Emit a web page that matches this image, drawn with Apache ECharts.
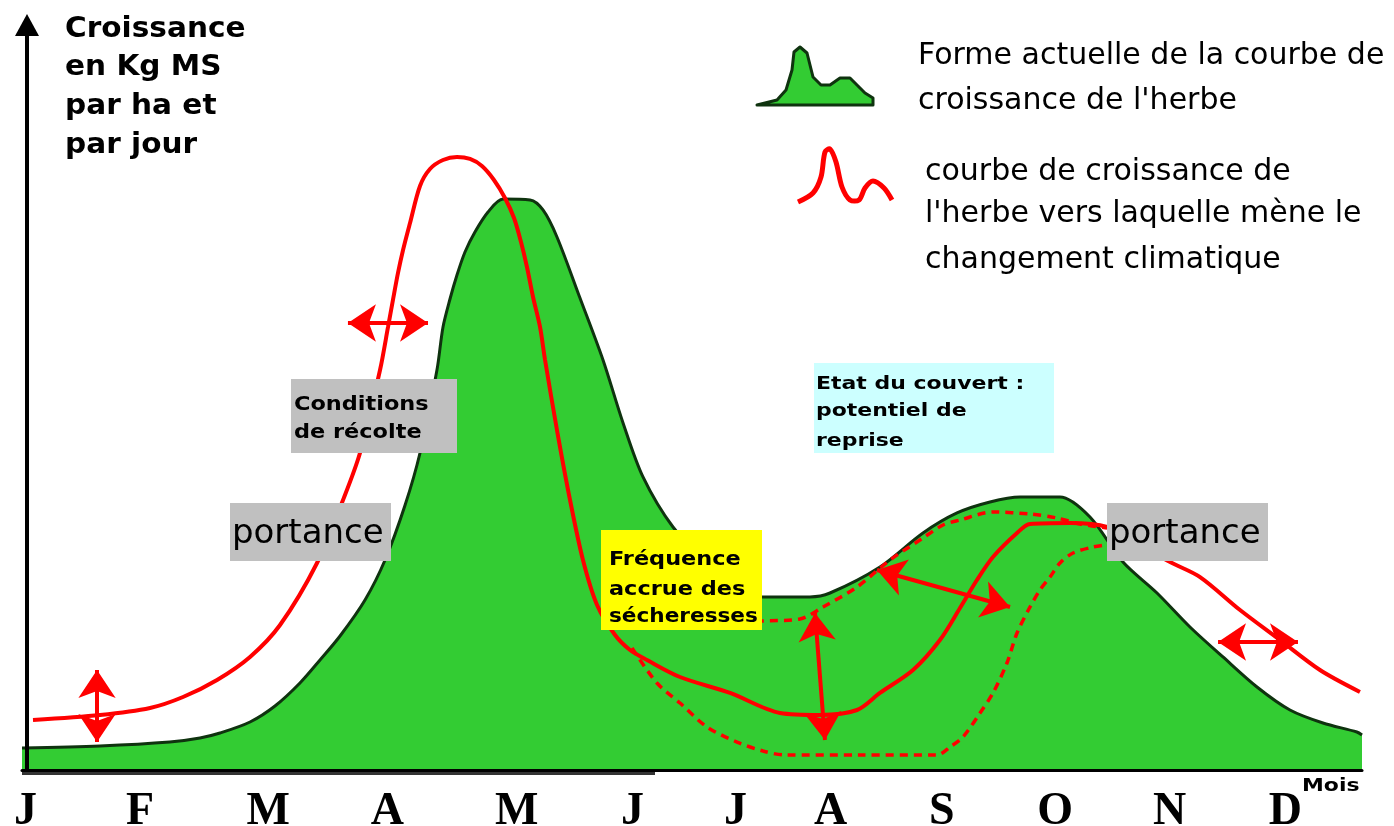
<!DOCTYPE html>
<html>
<head>
<meta charset="utf-8">
<title>Croissance de l'herbe</title>
<script src="https://cdn.jsdelivr.net/npm/echarts@6/dist/echarts.min.js"></script>
<style>
  html, body { margin: 0; padding: 0; background: #ffffff; }
  #chart { width: 1394px; height: 826px; }
</style>
</head>
<body>
<div id="chart"></div>
<script>
// Months along the horizontal axis (x unit = one month from January)
const monthLabels = ['J', 'F', 'M', 'A', 'M', 'J', 'J', 'A', 'S', 'O', 'N', 'D'];
const monthPos = [0.03, 1.03, 2.15, 3.19, 4.32, 5.33, 6.23, 7.06, 8.03, 9.02, 10.02, 11.03];

// Current grass growth curve [month, kg MS/ha/day (relative)]
const currentGrowth = [
  [0, 2.93], [0.68, 3.2], [1.29, 3.73], [1.554, 4.27], [1.729, 4.93], [1.991, 6.4],
  [2.209, 8.53], [2.427, 11.6], [2.602, 14.67], [2.777, 17.87], [2.995, 22.67], [3.17, 28.0],
  [3.345, 35.33], [3.475, 42.27], [3.623, 53.33], [3.676, 59.07], [3.737, 62.8], [3.798, 66.0],
  [3.868, 69.07], [3.955, 71.73], [4.069, 74.4], [4.2, 76.13], [4.436, 76.0], [4.549, 74.67],
  [4.671, 71.07], [4.872, 62.93], [5.073, 54.67], [5.248, 46.27], [5.422, 39.07], [5.684, 32.4],
  [6.007, 27.33], [6.269, 24.27], [6.461, 23.07], [6.88, 23.07], [7.055, 23.6], [7.491, 27.07],
  [7.867, 31.6], [8.164, 34.27], [8.452, 35.73], [8.714, 36.4], [9.063, 36.4], [9.325, 33.73],
  [9.613, 27.73], [9.91, 23.6], [10.198, 19.07], [10.486, 15.07], [10.783, 11.07], [11.071, 8.0],
  [11.359, 6.27], [11.655, 5.07], [11.7, 4.67]
];

// Growth curve under climate change
const futureGrowth = [
  [0.096, 6.67], [0.681, 7.33], [1.118, 8.27], [1.406, 9.73], [1.703, 12.0], [1.991, 15.07],
  [2.253, 19.33], [2.576, 27.6], [2.803, 36.0], [2.951, 42.27], [3.126, 53.33], [3.196, 59.07],
  [3.239, 62.67], [3.283, 66.27], [3.327, 69.33], [3.388, 72.93], [3.475, 77.87], [3.562, 80.13],
  [3.676, 81.33], [3.798, 81.73], [3.912, 81.47], [4.016, 80.53], [4.121, 78.67], [4.217, 76.27],
  [4.296, 73.6], [4.357, 70.4], [4.409, 67.07], [4.462, 63.07], [4.523, 59.07], [4.567, 54.67],
  [4.671, 45.33], [4.785, 36.0], [4.898, 28.0], [5.021, 22.0], [5.178, 18.0], [5.309, 16.0],
  [5.457, 14.67], [5.745, 12.4], [6.182, 10.27], [6.618, 7.6], [6.968, 7.33], [7.291, 8.0],
  [7.491, 10.27], [7.78, 13.33], [8.015, 17.33], [8.19, 21.6], [8.338, 25.33], [8.478, 28.4],
  [8.688, 31.6], [8.801, 32.8], [9.15, 32.93], [9.474, 32.4], [9.762, 30.0], [10.024, 27.73],
  [10.286, 25.73], [10.635, 21.33], [10.984, 17.33], [11.333, 13.33], [11.682, 10.4]
];

// Summer/autumn variants (dotted)
const droughtUpper = [
  [5.92, 19.47], [6.461, 19.87], [6.793, 20.13], [6.994, 21.73], [7.291, 24.4], [7.579, 28.0],
  [7.867, 30.93], [8.042, 32.67], [8.19, 33.33], [8.478, 34.4], [8.801, 34.13], [9.037, 33.6],
  [9.238, 32.8], [9.474, 32.27]
];
const droughtLower = [
  [5.326, 16.27], [5.544, 11.6], [5.745, 8.93], [5.981, 5.73], [6.243, 3.73], [6.47, 2.53],
  [6.662, 2.0], [7.317, 2.0], [7.989, 2.0], [8.103, 3.07], [8.216, 4.4], [8.365, 7.6],
  [8.478, 10.27], [8.6, 14.27], [8.688, 18.27], [8.801, 21.73], [8.888, 24.0], [8.976, 25.73],
  [9.063, 27.6], [9.177, 28.93], [9.351, 29.73], [9.474, 30.0]
];

// Double-headed arrows showing shifts (tip to tip)
const shiftArrows = [
  [[0.655, 13.33], [0.655, 3.73]],
  [[2.846, 59.6], [3.545, 59.6]],
  [[6.924, 20.93], [7.011, 4.0]],
  [[7.465, 26.67], [8.627, 21.73]],
  [[10.443, 17.07], [11.141, 17.07]]
];

const yTitle = ['Croissance', 'en Kg MS', 'par ha et', 'par jour'];
const legendCurrent = ['Forme actuelle de la courbe de', "croissance de l'herbe"];
const legendFuture = ['courbe de croissance de', "l'herbe vers laquelle mène le", 'changement climatique'];

const GREEN = '#33cc33';
const GREEN_EDGE = '#0f330f';
const RED = '#ff0000';

function txt(x, y, s, font, sx) {
  return {
    type: 'text', x: x, y: y, scaleX: sx || 1, z: 100,
    style: { text: s, font: font, fill: '#000', align: 'left', verticalAlign: 'middle' }
  };
}
function box(x, y, w, h, fill) {
  return { type: 'rect', z: 99, shape: { x: x, y: y, width: w, height: h }, style: { fill: fill } };
}

const graphics = [];
// Axis title
yTitle.forEach(function (s, i) {
  graphics.push(txt(65, [29, 67, 106, 145][i], s, 'bold 29px "DejaVu Sans"', 1.02));
});
// Legend
graphics.push({
  type: 'polygon', z: 100,
  shape: { points: [[757, 105], [777, 100], [786, 90], [792, 70], [794, 52], [800, 47], [807, 53], [813, 77], [821, 85], [830, 85], [840, 78], [850, 78], [859, 87], [865, 93], [873, 98], [873, 105]] },
  style: { fill: GREEN, stroke: GREEN_EDGE, lineWidth: 3, lineJoin: 'round' }
});
graphics.push({
  type: 'polyline', z: 100,
  shape: { points: [[798, 202], [813, 193], [821, 177], [825, 152], [830, 149], [836, 162], [842, 187], [850, 200], [859, 200], [865, 188], [873, 181], [884, 188], [892, 200]], smooth: 0.3 },
  style: { stroke: RED, lineWidth: 5, fill: null }
});
legendCurrent.forEach(function (s, i) {
  graphics.push(txt(918, [56, 101][i], s, '30px "DejaVu Sans"', 1));
});
legendFuture.forEach(function (s, i) {
  graphics.push(txt(925, [172, 214, 260][i], s, '30px "DejaVu Sans"', 1));
});
// Annotation boxes
graphics.push(box(291, 379, 166, 74, '#c0c0c0'));
graphics.push(txt(294, 405, 'Conditions', 'bold 19px "DejaVu Sans"', 1.18));
graphics.push(txt(294, 433, 'de récolte', 'bold 19px "DejaVu Sans"', 1.18));
graphics.push(box(230, 503, 161, 58, '#c0c0c0'));
graphics.push(txt(232, 534, 'portance', '33px "DejaVu Sans"', 1.03));
graphics.push(box(1107, 503, 161, 58, '#c0c0c0'));
graphics.push(txt(1109, 534, 'portance', '33px "DejaVu Sans"', 1.03));
graphics.push(box(601, 530, 161, 100, '#ffff00'));
graphics.push(txt(609, 560, 'Fréquence', 'bold 20px "DejaVu Sans"', 1.12));
graphics.push(txt(609, 590, 'accrue des', 'bold 20px "DejaVu Sans"', 1.12));
graphics.push(txt(609, 617, 'sécheresses', 'bold 20px "DejaVu Sans"', 1.08));
graphics.push(box(814, 363, 240, 90, '#ccffff'));
graphics.push(txt(816, 384, 'Etat du couvert :', 'bold 18px "DejaVu Sans"', 1.22));
graphics.push(txt(816, 411, 'potentiel de', 'bold 18px "DejaVu Sans"', 1.22));
graphics.push(txt(816, 441, 'reprise', 'bold 18px "DejaVu Sans"', 1.22));
// Axis unit
graphics.push(txt(1302, 786, 'Mois', 'bold 18px "DejaVu Sans"', 1.22));
// shadow strip under the baseline
graphics.push({ type: 'rect', z: 1, shape: { x: 22, y: 771, width: 633, height: 4 }, style: { fill: '#333333' } });

const chart = echarts.init(document.getElementById('chart'), null, { renderer: 'canvas' });
chart.setOption({
  animation: false,
  backgroundColor: '#ffffff',
  grid: { left: 22, right: 32, top: 20, bottom: 56, containLabel: false, outerBoundsMode: 'none' },
  xAxis: {
    type: 'value', min: 0, max: 11.7, z: 10,
    axisLine: { show: true, onZero: false, lineStyle: { color: '#000', width: 3 } },
    axisTick: { show: false },
    splitLine: { show: false },
    axisLabel: {
      customValues: monthPos,
      formatter: function (v) {
        let best = 0;
        monthPos.forEach(function (p, i) { if (Math.abs(p - v) < Math.abs(monthPos[best] - v)) best = i; });
        return monthLabels[best];
      },
      fontFamily: '"Liberation Serif"', fontWeight: 'bold', fontSize: 46, color: '#000', margin: 19
    }
  },
  yAxis: {
    type: 'value', min: 0, max: 100, offset: -5, z: 10,
    axisLine: {
      show: true, onZero: false,
      symbol: ['none', 'triangle'], symbolSize: [24, 22], symbolOffset: [0, -5],
      lineStyle: { color: '#000', width: 4 }
    },
    axisTick: { show: false },
    axisLabel: { show: false },
    splitLine: { show: false }
  },
  series: [
    {
      name: 'actuelle', type: 'line', data: currentGrowth, smooth: 0.3, symbol: 'none', z: 2,
      lineStyle: { color: GREEN_EDGE, width: 3 },
      areaStyle: { color: GREEN, opacity: 1 }
    },
    {
      name: 'sécheresse forte', type: 'line', data: droughtLower, smooth: 0.3, symbol: 'none', z: 3,
      lineStyle: { color: RED, width: 3.5, type: [8, 6] }
    },
    {
      name: 'couvert', type: 'line', data: droughtUpper, smooth: 0.3, symbol: 'none', z: 3,
      lineStyle: { color: RED, width: 3.5, type: [8, 6] }
    },
    {
      name: 'future', type: 'line', data: futureGrowth, smooth: 0.3, symbol: 'none', z: 4,
      lineStyle: { color: RED, width: 4 }
    },
    {
      name: 'décalages', type: 'lines', coordinateSystem: 'cartesian2d', z: 5,
      symbol: ['arrow', 'arrow'], symbolSize: 28,
      lineStyle: { color: RED, width: 4, opacity: 1, curveness: 0 },
      data: shiftArrows.map(function (c) { return { coords: c }; })
    }
  ],
  graphic: { elements: graphics }
});
</script>
</body>
</html>
